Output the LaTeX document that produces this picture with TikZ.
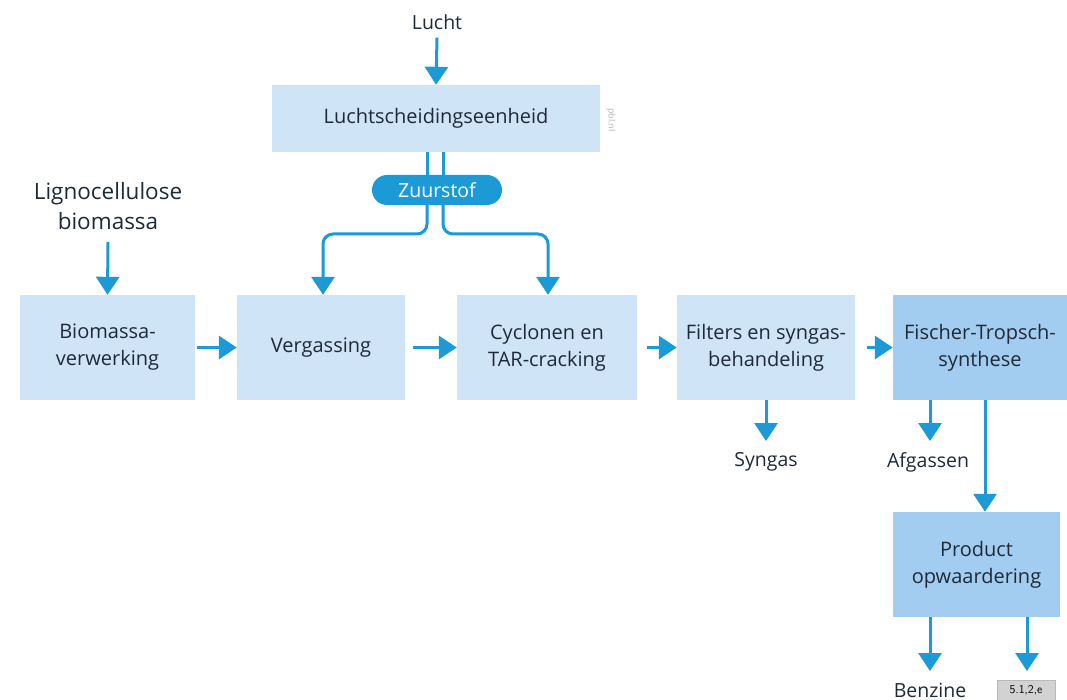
\documentclass[tikz,border=0pt]{standalone}
\usepackage{fontspec}
\setmainfont{Open Sans}
\usetikzlibrary{arrows.meta}
\definecolor{arrowblue}{HTML}{1B9AD6}
\definecolor{boxlight}{HTML}{CFE4F7}
\definecolor{boxdark}{HTML}{A3CDF0}
\definecolor{txt}{HTML}{1E2A38}
\tikzset{
  flow/.style={draw=arrowblue, line width=3pt, -{Triangle[length=18pt,width=23pt]}},
  plain/.style={draw=arrowblue, line width=3pt},
  lightbox/.style={fill=boxlight, draw=none, inner sep=0pt, align=center, text=txt, font=\fontsize{20}{27}\selectfont},
  darkbox/.style={fill=boxdark, draw=none, inner sep=0pt, align=center, text=txt, font=\fontsize{20}{27}\selectfont},
  lbl/.style={text=txt, inner sep=0pt, align=center, font=\fontsize{19.5}{27}\selectfont},
}
\begin{document}
\begin{tikzpicture}[x=1pt,y=-1pt]
\useasboundingbox (0,0) rectangle (1067,700);
% boxes
\node[lightbox, minimum width=328pt, minimum height=67pt] (lse) at (436,118.5) {Luchtscheidingseenheid};
\node[lightbox, minimum width=175pt, minimum height=105pt] (bio) at (107.5,347.5) {Biomassa-\\verwerking};
\node[lightbox, minimum width=168pt, minimum height=105pt] (verg) at (321,347.5) {Vergassing};
\node[lightbox, minimum width=180pt, minimum height=105pt] (cyc) at (547,347.5) {Cyclonen en\\TAR-cracking};
\node[lightbox, minimum width=178pt, minimum height=105pt] (fil) at (766,347.5) {Filters en syngas-\\behandeling};
\node[darkbox, minimum width=174pt, minimum height=105pt] (ft) at (980,347.5) {Fischer-Tropsch-\\synthese};
\node[darkbox, minimum width=167pt, minimum height=105pt] (prod) at (976.5,564.5) {Product\\opwaardering};
% labels
\node[lbl] (lucht) at (437,22) {Lucht};
\node[lbl, font=\fontsize{22.5}{30}\selectfont] (ligno) at (108,206) {Lignocellulose\\biomassa};
\node[lbl] (syngas) at (766,462) {Syngas};
\node[lbl] (afg) at (928,462) {Afgassen};
\node[lbl] (benz) at (930,690) {Benzine};
\node[text=gray!60, rotate=-90, font=\fontsize{9}{10}\selectfont, inner sep=0pt] (pbl) at (611,120) {pbl.nl};
\node[fill=gray!35, draw=gray!55, minimum width=58pt, minimum height=20pt, inner sep=0pt, font=\sffamily\fontsize{12}{14}\selectfont] (code) at (1026,690) {5.1,2,e};
% zuurstof
\node[fill=arrowblue, text=white, rounded corners=15pt, minimum width=130pt, minimum height=30pt, inner sep=0pt, font=\fontsize{19.5}{22}\selectfont] (zuur) at (437,190) {Zuurstof};
% connectors
\draw[flow] (lucht.south) ++(0,8) -- (lse.north);
\draw[plain] (lse.south -| 427,0) -- (zuur.north -| 427,0);
\draw[plain] (lse.south -| 443,0) -- (zuur.north -| 443,0);
\draw[flow, rounded corners=10pt] (zuur.south -| 427,0) -- (427,234) -- (323,234) -- (verg.north -| 323,0);
\draw[flow, rounded corners=10pt] (zuur.south -| 443,0) -- (443,234) -- (548,234) -- (cyc.north -| 548,0);
\draw[flow] (ligno.south) ++(0,12) -- (bio.north);
\draw[flow] (bio.east) ++(2,0) -- (verg.west);
\draw[flow] (verg.east) ++(8,0) -- (cyc.west);
\draw[flow] (cyc.east) ++(10,0) -- (fil.west);
\draw[flow] (fil.east) ++(12,0) -- (ft.west);
\draw[flow] (fil.south) -- (766,441);
\draw[flow] (ft.south -| 930,0) -- (930,441);
\draw[flow] (ft.south -| 985,0) -- (prod.north -| 985,0);
\draw[flow] (prod.south -| 930,0) -- (930,671);
\draw[flow] (prod.south -| 1027,0) -- (1027,671);
\end{tikzpicture}
\end{document}
